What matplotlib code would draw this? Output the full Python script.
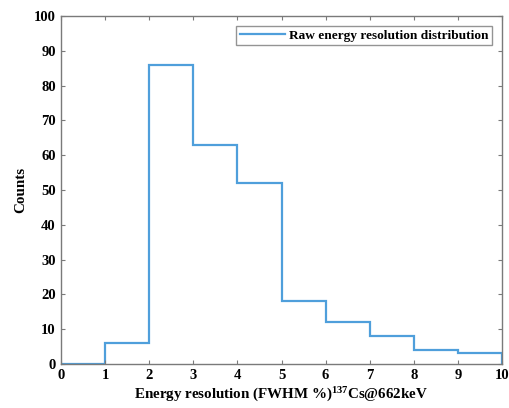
import matplotlib
matplotlib.use("Agg")
import matplotlib.pyplot as plt
import numpy as np

# Histogram of raw energy resolution (FWHM %) at 662 keV
bin_edges = [0, 1, 2, 3, 4, 5, 6, 7, 8, 9, 10]
counts = [0, 6, 86, 63, 52, 18, 12, 8, 4, 3]
x_ticks = [0, 1, 2, 3, 4, 5, 6, 7, 8, 9, 10]
y_ticks = [0, 10, 20, 30, 40, 50, 60, 70, 80, 90, 100]

plt.rcParams['font.family'] = ['Liberation Serif', 'DejaVu Serif']
plt.rcParams['font.weight'] = 'bold'
plt.rcParams['mathtext.fontset'] = 'custom'
plt.rcParams['mathtext.rm'] = 'Liberation Serif:bold'
plt.rcParams['mathtext.bf'] = 'Liberation Serif:bold'
plt.rcParams['mathtext.it'] = 'Liberation Serif:bold'

fig = plt.figure(figsize=(5.1, 4.08), dpi=100)
ax = fig.add_axes([0.12, 0.108, 0.864, 0.853])

line_color = '#4f9fdb'
ax.stairs(counts, bin_edges, color=line_color, linewidth=1.6,
          label='Raw energy resolution distribution')

ax.set_xlim(0, 10)
ax.set_ylim(0, 100)
ax.set_xticks(x_ticks)
ax.set_yticks(y_ticks)

frame_color = '#7a7a7a'
for s in ax.spines.values():
    s.set_color(frame_color)
    s.set_linewidth(1.0)
ax.tick_params(direction='in', top=True, right=True, length=3,
               color=frame_color, labelsize=10.5, pad=4)
for lbl in ax.get_xticklabels() + ax.get_yticklabels():
    lbl.set_fontweight('bold')

ax.set_xlabel(r'Energy resolution (FWHM %)$^{137}$Cs@662keV',
              fontsize=10.8, fontweight='bold', labelpad=2)
ax.set_ylabel('Counts', fontsize=10.8, fontweight='bold', labelpad=5)

leg = ax.legend(loc='upper right', fontsize=9.6, frameon=True, fancybox=False,
                edgecolor=frame_color, handlelength=3.4, handletextpad=0.3,
                borderpad=0.25, borderaxespad=0.75)
leg.get_frame().set_linewidth(1.0)
for t in leg.get_texts():
    t.set_fontweight('bold')

fig.savefig('out.png', dpi=100)
